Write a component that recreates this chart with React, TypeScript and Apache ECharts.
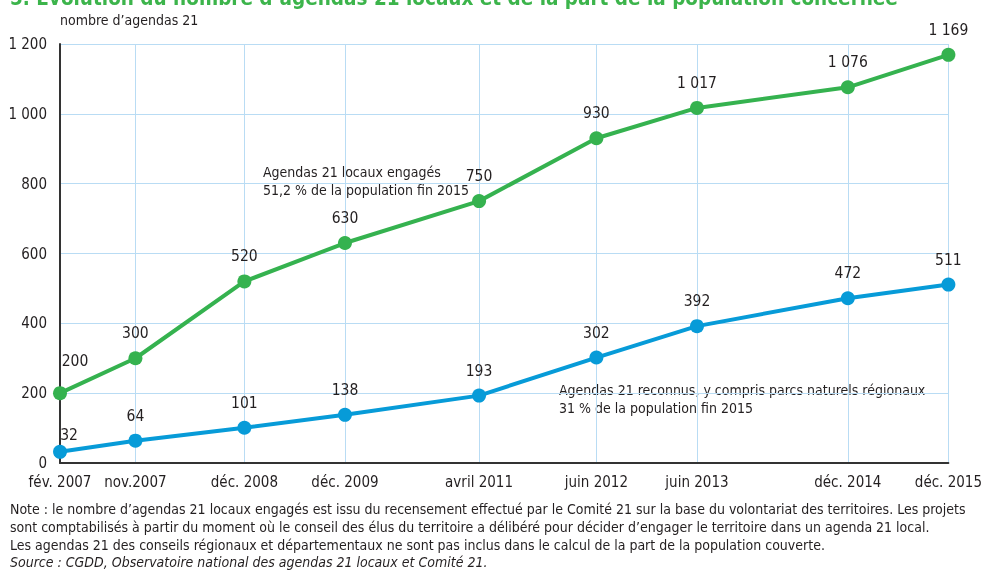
import React, { useEffect, useRef } from "react";
import * as echarts from "echarts";

// Months counted from January 2007 (fév. 2007 = 1)
const monthIndex = [1, 10, 23, 35, 51, 65, 77, 95, 107];
const dateLabels = [
  "fév. 2007",
  "nov.2007",
  "déc. 2008",
  "déc. 2009",
  "avril 2011",
  "juin 2012",
  "juin 2013",
  "déc. 2014",
  "déc. 2015",
];
const engages = [200, 300, 520, 630, 750, 930, 1017, 1076, 1169];
const reconnus = [32, 64, 101, 138, 193, 302, 392, 472, 511];
const yTicks = [0, 200, 400, 600, 800, 1000, 1200];

const FONT = "'Liberation Sans Narrow', 'DejaVu Sans Condensed', Arial, sans-serif";
const GREEN = "#35b24f";
const BLUE = "#079bd8";
const GRID = "#b9dcf4";
const TEXT = "#231f20";

const fmt = (v: number) => {
  const s = String(Math.round(v));
  return s.replace(/\B(?=(\d{3})+(?!\d))/g, " ");
};

export default function App() {
  const ref = useRef<HTMLDivElement>(null);
  useEffect(() => {
    if (!ref.current) return;
    const chart = echarts.init(ref.current, null, { renderer: "svg" });
    const labelMap: Record<number, string> = {};
    monthIndex.forEach((m, i) => (labelMap[m] = dateLabels[i]));
    const mkData = (vals: number[]) => vals.map((v, i) => [monthIndex[i], v]);
    const pointLabel = {
      show: true,
      position: "top",
      distance: 10,
      color: TEXT,
      fontSize: 15.5,
      fontFamily: FONT,
      formatter: (p: any) => fmt(p.value[1]),
    };
    chart.setOption({
      animation: false,
      textStyle: { fontFamily: FONT },
      grid: { left: 60, right: 34, top: 44, bottom: 109 },
      xAxis: {
        type: "value",
        min: monthIndex[0],
        max: monthIndex[monthIndex.length - 1],
        axisLine: { show: true, lineStyle: { color: "#333", width: 2 } },
        axisTick: { show: false, customValues: monthIndex },
        axisLabel: {
          customValues: monthIndex,
          formatter: (v: number) => labelMap[v] ?? "",
          color: TEXT,
          fontSize: 15,
          fontFamily: FONT,
          margin: 11,
          showMinLabel: true,
          showMaxLabel: true,
        },
        splitLine: { show: true, lineStyle: { color: GRID, width: 1 } },
      },
      yAxis: {
        type: "value",
        min: 0,
        max: 1200,
        interval: 200,
        axisLine: { show: true, lineStyle: { color: "#333", width: 2 } },
        axisTick: { show: false },
        axisLabel: {
          formatter: (v: number) => (yTicks.includes(v) ? fmt(v) : ""),
          color: TEXT,
          fontSize: 15,
          fontFamily: FONT,
          margin: 13,
        },
        splitLine: { show: true, lineStyle: { color: GRID, width: 1 } },
      },
      series: [
        {
          type: "line",
          data: mkData(engages),
          color: GREEN,
          lineStyle: { width: 4, color: GREEN },
          symbol: "circle",
          symbolSize: 14,
          itemStyle: { color: GREEN },
          label: pointLabel,
          labelLayout: (p: any) => (p.dataIndex === 0 ? { dx: 15, dy: -7 } : {}),
          z: 3,
        },
        {
          type: "line",
          data: mkData(reconnus),
          color: BLUE,
          lineStyle: { width: 4, color: BLUE },
          symbol: "circle",
          symbolSize: 14,
          itemStyle: { color: BLUE },
          label: pointLabel,
          labelLayout: (p: any) => (p.dataIndex === 0 ? { dx: 9, dy: 8 } : {}),
          z: 3,
        },
      ],
      graphic: [
        {
          type: "text",
          x: 10,
          y: 8,
          style: {
            text: "5. Évolution du nombre d’agendas 21 locaux et de la part de la population concernée",
            fill: "#3cb44b",
            font: `bold 20.5px ${FONT}`,
            textVerticalAlign: "bottom",
          },
        },
        {
          type: "text",
          x: 60,
          y: 20,
          style: {
            text: "nombre d’agendas 21",
            fill: TEXT,
            font: `14px ${FONT}`,
            textVerticalAlign: "middle",
          },
        },
        {
          type: "text",
          x: 263,
          y: 163,
          style: {
            text: "Agendas 21 locaux engagés\n51,2 % de la population fin 2015",
            fill: TEXT,
            font: `14px ${FONT}`,
            lineHeight: 18,
          },
        },
        {
          type: "text",
          x: 559,
          y: 381,
          style: {
            text: "Agendas 21 reconnus, y compris parcs naturels régionaux\n31 % de la population fin 2015",
            fill: TEXT,
            font: `14px ${FONT}`,
            lineHeight: 18,
          },
        },
        {
          type: "text",
          x: 10,
          y: 500,
          style: {
            text:
              "Note : le nombre d’agendas 21 locaux engagés est issu du recensement effectué par le Comité 21 sur la base du volontariat des territoires. Les projets\n" +
              "sont comptabilisés à partir du moment où le conseil des élus du territoire a délibéré pour décider d’engager le territoire dans un agenda 21 local.\n" +
              "Les agendas 21 des conseils régionaux et départementaux ne sont pas inclus dans le calcul de la part de la population couverte.",
            fill: TEXT,
            font: `14px ${FONT}`,
            lineHeight: 18,
          },
        },
        {
          type: "text",
          x: 10,
          y: 553,
          style: {
            text: "Source : CGDD, Observatoire national des agendas 21 locaux et Comité 21.",
            fill: TEXT,
            font: `italic 14px ${FONT}`,
            lineHeight: 18,
          },
        },
      ],
    });
    return () => chart.dispose();
  }, []);
  return (
    <div
      ref={ref}
      style={{ position: "fixed", left: 0, top: 0, width: 985, height: 572 }}
    />
  );
}
